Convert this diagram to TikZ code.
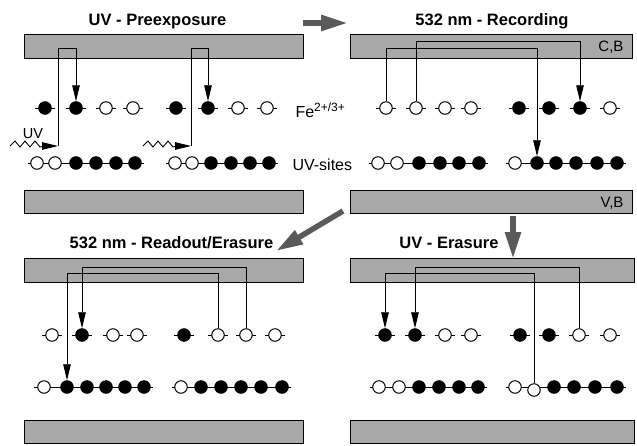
\documentclass[tikz,border=0pt]{standalone}
\usepackage{fontspec}
\setmainfont{Liberation Sans}
\usetikzlibrary{arrows.meta,calc}
\definecolor{barfill}{RGB}{168,168,168}
\definecolor{bigarrow}{RGB}{90,90,90}
\begin{document}
\begin{tikzpicture}[x=1pt,y=-1pt,
  bar/.style={draw=black,line width=0.9pt,fill=barfill},
  site/.style={circle,draw=black,line width=1pt,inner sep=0pt,minimum size=12.5pt},
  emp/.style={site,fill=white},
  ful/.style={site,fill=black},
  conn/.style={line width=0.9pt},
  connarr/.style={conn,-{Triangle[length=16pt,width=7.5pt]}},
  big/.style={line width=5.5pt,draw=bigarrow,-{Triangle[length=27pt,width=15pt]}},
  title/.style={font=\fontsize{16.5}{19}\selectfont\bfseries,anchor=base},
  lbl/.style={font=\fontsize{16}{19}\selectfont,anchor=base west},
  band/.style={font=\fontsize{15}{18}\selectfont,anchor=base east},
]
\useasboundingbox (0,0) rectangle (637,445);

% bars
\draw[bar] (24,34) rectangle (303,58);
\draw[bar] (24,190) rectangle (303,213);
\draw[bar] (350,34) rectangle (632,58);
\draw[bar] (350,190) rectangle (632,213);
\draw[bar] (24,258) rectangle (303,282);
\draw[bar] (24,420) rectangle (303,443);
\draw[bar] (350,258) rectangle (634,282);
\draw[bar] (350,420) rectangle (634,443);

% titles and labels
\node[title] (t1) at (157.5,25) {UV - Preexposure};
\node[title] (t2) at (492,25) {532 nm - Recording};
\node[title] (t3) at (171.5,248) {532 nm - Readout/Erasure};
\node[title] (t4) at (449,248) {UV - Erasure};
\node[band] (cb) at (627,51) {C,B};
\node[band] (vb) at (627,207) {V,B};
\node[lbl] (fe) at (292,117) {Fe{\fontsize{12}{14}\selectfont\raisebox{5.5pt}{2+/3+}}};
\node[lbl] (uvs) at (289,170) {UV-sites};
\node[font=\fontsize{14.5}{17}\selectfont,anchor=base] (uvl) at (33,138) {UV};

% level coordinates
\coordinate (lvA) at (0,48);
\coordinate (lvB) at (0,41);
\coordinate (lvC) at (0,273);
\coordinate (lvD) at (0,267);

% ---------- top left ----------
\foreach \x/\s [count=\i] in {45/ful,76/ful,106/emp,133/emp,176/ful,208/ful,238/emp,267/emp}{
  \draw[conn] (\x-10,108) -- (\x+10,108);
  \node[\s] (TLf\i) at (\x,108) {};
}
\draw[conn] (28,163) -- (144,163);
\draw[conn] (166,163) -- (278,163);
\foreach \x/\s [count=\i] in {37/emp,55/emp,76/ful,96/ful,116/ful,135/ful,175/emp,192/emp,211/ful,231/ful,250/ful,269/ful}{
  \node[\s] (TLu\i) at (\x,163) {};
}
% ---------- top right ----------
\foreach \x/\s [count=\i] in {386/emp,416/emp,445/emp,471/emp,519/ful,549/ful,580/ful,610/emp}{
  \draw[conn] (\x-10,108) -- (\x+10,108);
  \node[\s] (TRf\i) at (\x,108) {};
}
\draw[conn] (369,163) -- (488,163);
\draw[conn] (506,163) -- (626,163);
\foreach \x/\s [count=\i] in {378/emp,397/emp,419/ful,440/ful,459/ful,479/ful,515/emp,537/ful,556/ful,576/ful,597/ful,617/ful}{
  \node[\s] (TRu\i) at (\x,163) {};
}
% ---------- bottom left ----------
\foreach \x/\s [count=\i] in {52/emp,82/ful,113/emp,137/emp,184/ful,218/emp,246/emp,275/emp}{
  \draw[conn] (\x-10,335) -- (\x+10,335);
  \node[\s] (BLf\i) at (\x,335) {};
}
\draw[conn] (34,387) -- (153,387);
\draw[conn] (172,387) -- (291,387);
\foreach \x/\s [count=\i] in {44/emp,67/ful,87/ful,106/ful,125/ful,144/ful,181/emp,201/ful,221/ful,241/ful,261/ful,282/ful}{
  \node[\s] (BLu\i) at (\x,387) {};
}
% ---------- bottom right ----------
\foreach \x/\s [count=\i] in {385/ful,415/ful,445/emp,471/emp,520/ful,549/ful,579/emp,610/emp}{
  \draw[conn] (\x-10,335) -- (\x+10,335);
  \node[\s] (BRf\i) at (\x,335) {};
}
\draw[conn] (370,387) -- (487,387);
\draw[conn] (506,387) -- (626,387);
\foreach \x/\y/\s [count=\i] in {379/387/emp,399/387/emp,419/387/ful,439/387/ful,459/387/ful,478/387/ful,515/387/emp,534/390/emp,554/387/ful,574/387/ful,595/387/ful,617/387/ful}{
  \node[\s] (BRu\i) at (\x,\y) {};
}

% ---------- UV excitation (top left) ----------
\coordinate (TLw1s) at (10,146);
\coordinate (TLw1) at (58,146);
\draw[connarr] (TLw1s) -- ++(5,-5) -- ++(5,6) -- ++(5,-6) -- ++(5,6) -- ++(5,-6) -- ++(5,6) -- ++(4,-1) -- (TLw1);
\draw[connarr] (TLw1) -- (TLw1 |- lvA) -| (TLf2.north);
\coordinate (TLw2s) at (143,146);
\coordinate (TLw2) at (191,146);
\draw[connarr] (TLw2s) -- ++(5,-5) -- ++(5,6) -- ++(5,-6) -- ++(5,6) -- ++(5,-6) -- ++(5,6) -- ++(4,-1) -- (TLw2);
\draw[connarr] (TLw2) -- (TLw2 |- lvA) -| (TLf6.north);

% ---------- recording ----------
\draw[connarr] (TRf1.north) -- (TRf1.north |- lvA) -| (TRu8.north);
\draw[connarr] (TRf2.north) -- (TRf2.north |- lvB) -| (TRf7.north);

% ---------- readout ----------
\draw[connarr] (BLf6.north) -- (BLf6.north |- lvC) -| (BLu2.north);
\draw[connarr] (BLf7.north) -- (BLf7.north |- lvD) -| (BLf2.north);

% ---------- UV erasure ----------
\draw[conn] (BRu8.north) -- (BRu8.north |- lvC);
\draw[connarr] (BRu8.north |- lvC) -| (BRf1.north);
\draw[connarr] (BRf7.north) -- (BRf7.north |- lvD) -| (BRf2.north);

% ---------- big process arrows ----------
\coordinate (a1s) at (303,23);
\coordinate (a1e) at (348,23);
\draw[big] (a1s) -- (a1e);
\coordinate (a2s) at (343,211);
\coordinate (a2e) at (276,251);
\draw[big] (a2s) -- (a2e);
\coordinate (a3s) at (513,216);
\coordinate (a3e) at (513,259);
\draw[big] (a3s) -- (a3e);
\end{tikzpicture}
\end{document}
